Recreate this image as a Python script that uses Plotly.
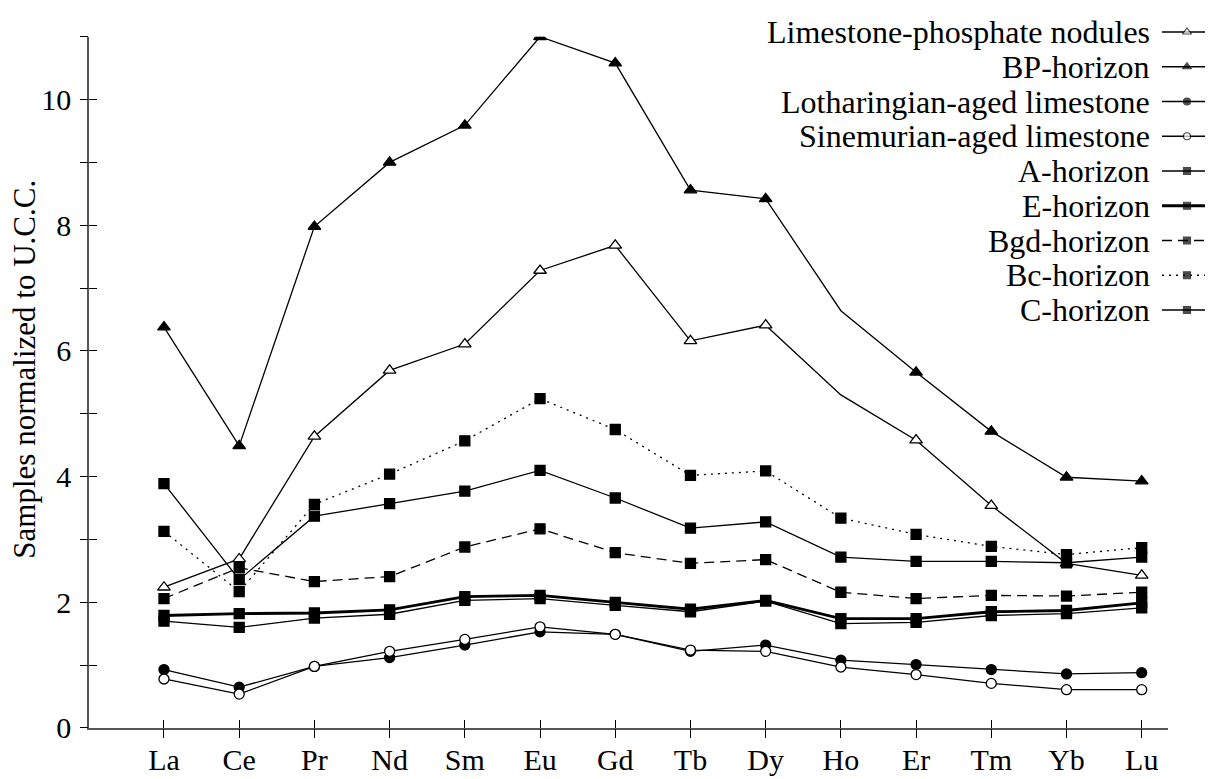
from plotly import graph_objects as go

elements = ["La", "Ce", "Pr", "Nd", "Sm", "Eu", "Gd", "Tb", "Dy", "Ho", "Er", "Tm", "Yb", "Lu"]

limestone_phosphate = [2.24, 2.69, 4.64, 5.69, 6.11, 7.28, 7.68, 6.16, 6.41, 5.30, 4.58, 3.54, 2.62, 2.43]
bp_horizon = [6.38, 4.49, 7.98, 9.00, 9.59, 11.0, 10.58, 8.56, 8.42, 6.64, 5.66, 4.72, 3.99, 3.93]
lotharingian_limestone = [0.93, 0.65, 0.98, 1.12, 1.32, 1.53, 1.49, 1.22, 1.32, 1.08, 1.01, 0.93, 0.86, 0.88]
sinemurian_limestone = [0.78, 0.54, 0.98, 1.22, 1.41, 1.61, 1.49, 1.24, 1.22, 0.97, 0.85, 0.71, 0.61, 0.61]
a_horizon = [3.89, 2.36, 3.37, 3.57, 3.77, 4.10, 3.66, 3.18, 3.28, 2.72, 2.65, 2.65, 2.63, 2.72]
e_horizon = [1.79, 1.82, 1.83, 1.88, 2.09, 2.11, 2.00, 1.89, 2.03, 1.74, 1.74, 1.85, 1.87, 1.99]
bgd_horizon = [2.06, 2.55, 2.33, 2.41, 2.88, 3.17, 2.79, 2.62, 2.68, 2.16, 2.06, 2.11, 2.10, 2.16]
bc_horizon = [3.13, 2.17, 3.56, 4.04, 4.57, 5.24, 4.75, 4.02, 4.09, 3.34, 3.08, 2.89, 2.76, 2.87]
c_horizon = [1.70, 1.60, 1.75, 1.81, 2.03, 2.06, 1.95, 1.85, 2.02, 1.66, 1.68, 1.79, 1.82, 1.91]

y_ticks = [0, 2, 4, 6, 8, 10]

FONT = "Liberation Serif, Times New Roman, serif"

# name, values, marker symbol, filled?, line width, dash
series = [
    ("Limestone-phosphate nodules", limestone_phosphate, "triangle-up", False, 1.3, "solid"),
    ("BP-horizon", bp_horizon, "triangle-up", True, 1.3, "solid"),
    ("Lotharingian-aged limestone", lotharingian_limestone, "circle", True, 1.3, "solid"),
    ("Sinemurian-aged limestone", sinemurian_limestone, "circle", False, 1.3, "solid"),
    ("A-horizon", a_horizon, "square", True, 1.3, "solid"),
    ("E-horizon", e_horizon, "square", True, 2.8, "solid"),
    ("Bgd-horizon", bgd_horizon, "square", True, 1.3, "10px,6px"),
    ("Bc-horizon", bc_horizon, "square", True, 1.3, "2px,5px"),
    ("C-horizon", c_horizon, "square", True, 1.3, "solid"),
]

marker_sizes = {"triangle-up": 11, "circle": 10, "square": 10}

fig = go.Figure()

for name, values, symbol, filled, width, dash in series:
    size = marker_sizes[symbol]
    # the two upper series have no symbol drawn at Ho
    sizes = [0 if (el == "Ho" and symbol == "triangle-up") else size for el in elements]
    fig.add_trace(go.Scatter(
        x=list(range(len(elements))),
        y=values,
        name=name,
        mode="lines+markers",
        line=dict(color="black", width=width, dash=dash),
        marker=dict(
            symbol=symbol,
            size=sizes,
            color="black" if filled else "white",
            opacity=1,
            line=dict(color="black", width=1.3),
        ),
        showlegend=False,
    ))

# hand made legend: text on the left, key on the right
key_x = [0.0, 0.5, 1.0]
for i, (name, values, symbol, filled, width, dash) in enumerate(series):
    size = marker_sizes[symbol] - 3
    fig.add_trace(go.Scatter(
        x=key_x,
        y=[i] * len(key_x),
        mode="lines+markers",
        line=dict(color="black", width=width, dash=dash),
        marker=dict(
            symbol=symbol,
            size=[0, size, 0],
            color="black" if filled else "white",
            line=dict(color="black", width=[0, 1.2, 0]),
        ),
        xaxis="x2",
        yaxis="y2",
        showlegend=False,
        hoverinfo="skip",
    ))
    fig.add_annotation(
        x=0.9457, xref="paper",
        y=i, yref="y2",
        text=name,
        showarrow=False,
        xanchor="right",
        yanchor="middle",
        font=dict(family=FONT, size=32, color="black"),
    )

# y axis title, placed by hand to sit where the original has it
fig.add_annotation(
    x=-0.057, xref="paper",
    y=0.499, yref="paper",
    text="Samples normalized to U.C.C.",
    textangle=-90,
    showarrow=False,
    xanchor="center",
    yanchor="middle",
    font=dict(family=FONT, size=31, color="black"),
)

# empty overlay so the ticks cross the axis lines
fig.add_trace(go.Scatter(x=[], y=[], xaxis="x3", yaxis="y3", showlegend=False, hoverinfo="skip"))

x_range = [-0.997, 13.35]
y_range = [0, 11]

# the page puts the plot 8px in from the corner, so the figure is 8px smaller
fig.update_layout(
    width=1205,
    height=771,
    paper_bgcolor="white",
    plot_bgcolor="white",
    margin=dict(l=81, r=0, t=0, b=51),
    font=dict(family=FONT, size=30, color="black"),
    showlegend=False,
    xaxis=dict(
        domain=[0, 0.96],
        range=x_range,
        tickvals=list(range(len(elements))),
        ticktext=elements,
        showgrid=False,
        zeroline=False,
        showline=True,
        linecolor="#555",
        linewidth=1.5,
        ticks="inside",
        ticklen=8,
        tickwidth=1.2,
        tickcolor="black",
        ticklabelstandoff=4,
        tickfont=dict(family=FONT, size=30),
        anchor="y",
    ),
    yaxis=dict(
        domain=[0, 0.9601],
        range=y_range,
        tickvals=y_ticks,
        showgrid=False,
        zeroline=False,
        showline=True,
        linecolor="#555",
        linewidth=1.5,
        ticks="inside",
        ticklen=8,
        tickwidth=1.2,
        tickcolor="black",
        ticklabelstandoff=10,
        tickfont=dict(family=FONT, size=30),
        minor=dict(dtick=1, tick0=0, ticks="inside", ticklen=8, tickwidth=1.2, tickcolor="black"),
        anchor="x",
    ),
    xaxis3=dict(
        overlaying="x",
        anchor="y",
        range=x_range,
        tickvals=list(range(len(elements))),
        showticklabels=False,
        showgrid=False,
        zeroline=False,
        showline=False,
        ticks="outside",
        ticklen=9,
        tickwidth=1.2,
        tickcolor="black",
    ),
    yaxis3=dict(
        overlaying="y",
        anchor="x",
        range=y_range,
        tickvals=y_ticks,
        showticklabels=False,
        showgrid=False,
        zeroline=False,
        showline=False,
        ticks="outside",
        ticklen=8,
        tickwidth=1.2,
        tickcolor="black",
        minor=dict(dtick=1, tick0=0, ticks="outside", ticklen=8, tickwidth=1.2, tickcolor="black"),
    ),
    xaxis2=dict(
        domain=[0.9546, 0.9991],
        range=[0, 1],
        visible=False,
        anchor="y2",
    ),
    yaxis2=dict(
        domain=[0.5564, 0.9908],
        range=[8.5, -0.5],
        visible=False,
        anchor="x2",
    ),
)

fig.write_html("out.html")
